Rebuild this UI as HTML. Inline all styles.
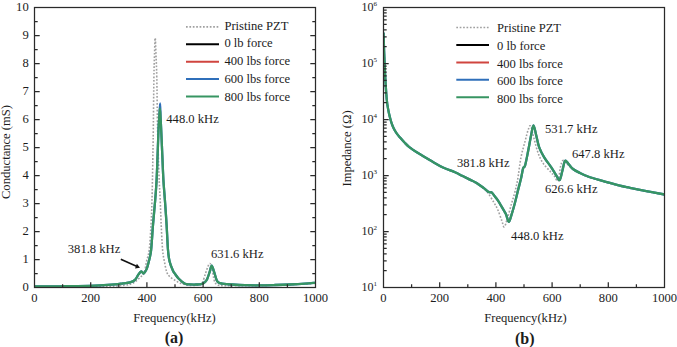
<!DOCTYPE html><html><head><meta charset="utf-8"><style>html,body{margin:0;padding:0;background:#fff;width:677px;height:347px;overflow:hidden}svg{display:block}text{font-family:"Liberation Serif",serif;fill:#1c1c1c}</style></head><body>
<svg width="677" height="347" viewBox="0 0 677 347">
<defs><clipPath id="cl"><rect x="34.5" y="7.5" width="281" height="280"/></clipPath>
<clipPath id="cr"><rect x="383.5" y="7.5" width="281" height="280"/></clipPath></defs>
<g clip-path="url(#cl)" fill="none" stroke-linejoin="round" stroke-linecap="round"><path d="M34.50,286.90 C42.08,286.88 67.42,286.92 80.00,286.80 C92.58,286.68 102.50,286.47 110.00,286.20 C117.50,285.93 121.33,285.63 125.00,285.20 C128.67,284.77 130.05,284.38 132.00,283.60 C133.95,282.82 135.23,281.63 136.70,280.50 C138.17,279.37 139.55,278.05 140.80,276.80 C142.05,275.55 143.25,275.55 144.20,273.00 C145.15,270.45 145.67,265.33 146.50,261.50 C147.33,257.67 148.45,256.08 149.20,250.00 C149.95,243.92 150.53,233.33 151.00,225.00 C151.47,216.67 151.70,210.83 152.00,200.00 C152.30,189.17 152.58,171.67 152.80,160.00 C153.02,148.33 153.12,143.67 153.30,130.00 C153.48,116.33 153.70,90.50 153.90,78.00 C154.10,65.50 154.28,61.67 154.50,55.00 C154.72,48.33 154.95,38.00 155.20,38.00 C155.45,38.00 155.73,48.33 156.00,55.00 C156.27,61.67 156.53,65.50 156.80,78.00 C157.07,90.50 157.23,113.83 157.60,130.00 C157.97,146.17 158.57,163.33 159.00,175.00 C159.43,186.67 159.83,191.67 160.20,200.00 C160.57,208.33 160.80,216.67 161.20,225.00 C161.60,233.33 162.07,243.92 162.60,250.00 C163.13,256.08 163.72,257.85 164.40,261.50 C165.08,265.15 165.83,269.40 166.70,271.90 C167.57,274.40 168.17,275.07 169.60,276.50 C171.03,277.93 173.40,279.35 175.30,280.50 C177.20,281.65 178.88,282.60 181.00,283.40 C183.12,284.20 185.50,284.98 188.00,285.30 C190.50,285.62 194.00,285.42 196.00,285.30 C198.00,285.18 198.90,285.12 200.00,284.60 C201.10,284.08 201.67,284.10 202.60,282.20 C203.53,280.30 204.68,275.88 205.60,273.20 C206.52,270.52 207.35,267.70 208.10,266.10 C208.85,264.50 209.42,263.10 210.10,263.60 C210.78,264.10 211.52,266.33 212.20,269.10 C212.88,271.87 213.45,277.67 214.20,280.20 C214.95,282.73 215.40,283.40 216.70,284.30 C218.00,285.20 218.12,285.35 222.00,285.60 C225.88,285.85 233.67,285.80 240.00,285.80 C246.33,285.80 251.67,285.80 260.00,285.60 C268.33,285.40 280.75,284.97 290.00,284.60 C299.25,284.23 311.25,283.60 315.50,283.40" stroke="#a0a0a0" stroke-width="1.6" stroke-dasharray="1.7 1.7" stroke-linecap="butt"/><path d="M34.50,286.40 C38.75,286.38 52.75,286.35 60.00,286.30 C67.25,286.25 71.33,286.27 78.00,286.10 C84.67,285.93 93.83,285.60 100.00,285.30 C106.17,285.00 111.17,284.63 115.00,284.30 C118.83,283.97 120.50,283.62 123.00,283.30 C125.50,282.98 128.00,282.98 130.00,282.40 C132.00,281.82 133.58,281.13 135.00,279.80 C136.42,278.47 137.45,275.80 138.50,274.40 C139.55,273.00 140.45,271.57 141.30,271.40 C142.15,271.23 142.73,273.73 143.60,273.40 C144.47,273.07 145.63,271.38 146.50,269.40 C147.37,267.42 148.03,264.73 148.80,261.50 C149.57,258.27 150.40,256.08 151.10,250.00 C151.80,243.92 152.32,233.33 153.00,225.00 C153.68,216.67 154.60,207.50 155.20,200.00 C155.80,192.50 156.20,187.50 156.60,180.00 C157.00,172.50 157.28,163.33 157.60,155.00 C157.92,146.67 158.23,136.17 158.50,130.00 C158.77,123.83 158.93,122.43 159.20,118.00 C159.47,113.57 159.87,103.40 160.10,103.40 C160.33,103.40 160.42,113.57 160.60,118.00 C160.78,122.43 160.92,123.83 161.20,130.00 C161.48,136.17 161.93,146.67 162.30,155.00 C162.67,163.33 162.97,172.50 163.40,180.00 C163.83,187.50 164.37,192.50 164.90,200.00 C165.43,207.50 166.08,216.67 166.60,225.00 C167.12,233.33 167.50,243.92 168.00,250.00 C168.50,256.08 168.77,258.05 169.60,261.50 C170.43,264.95 172.15,268.72 173.00,270.70 C173.85,272.68 173.73,272.05 174.70,273.40 C175.67,274.75 177.08,277.07 178.80,278.80 C180.52,280.53 183.13,282.87 185.00,283.80 C186.87,284.73 188.17,284.28 190.00,284.40 C191.83,284.52 193.98,284.60 196.00,284.50 C198.02,284.40 200.60,284.22 202.10,283.80 C203.60,283.38 204.17,282.77 205.00,282.00 C205.83,281.23 206.33,280.83 207.10,279.20 C207.87,277.57 208.84,274.47 209.60,272.20 C210.36,269.93 210.88,265.60 211.65,265.60 C212.42,265.60 213.36,269.77 214.20,272.20 C215.04,274.63 215.90,278.43 216.70,280.20 C217.50,281.97 218.07,282.23 219.00,282.80 C219.93,283.37 220.13,283.32 222.30,283.60 C224.47,283.88 228.22,284.23 232.00,284.50 C235.78,284.77 240.33,285.07 245.00,285.20 C249.67,285.33 255.00,285.33 260.00,285.30 C265.00,285.27 270.00,285.13 275.00,285.00 C280.00,284.87 285.00,284.72 290.00,284.50 C295.00,284.28 300.75,283.98 305.00,283.70 C309.25,283.42 313.75,282.95 315.50,282.80" stroke="#2f6fba" stroke-width="2.3"/><path d="M34.50,286.40 C38.75,286.38 52.75,286.35 60.00,286.30 C67.25,286.25 71.33,286.27 78.00,286.10 C84.67,285.93 93.83,285.60 100.00,285.30 C106.17,285.00 111.17,284.63 115.00,284.30 C118.83,283.97 120.50,283.62 123.00,283.30 C125.50,282.98 128.00,282.98 130.00,282.40 C132.00,281.82 133.58,281.13 135.00,279.80 C136.42,278.47 137.45,275.80 138.50,274.40 C139.55,273.00 140.45,271.57 141.30,271.40 C142.15,271.23 142.73,273.73 143.60,273.40 C144.47,273.07 145.63,271.38 146.50,269.40 C147.37,267.42 148.03,264.73 148.80,261.50 C149.57,258.27 150.40,256.08 151.10,250.00 C151.80,243.92 152.32,233.33 153.00,225.00 C153.68,216.67 154.60,207.50 155.20,200.00 C155.80,192.50 156.20,187.50 156.60,180.00 C157.00,172.50 157.28,163.33 157.60,155.00 C157.92,146.67 158.23,136.17 158.50,130.00 C158.77,123.83 158.97,121.58 159.20,118.00 C159.43,114.42 159.67,108.50 159.90,108.50 C160.13,108.50 160.38,114.42 160.60,118.00 C160.82,121.58 160.92,123.83 161.20,130.00 C161.48,136.17 161.93,146.67 162.30,155.00 C162.67,163.33 162.97,172.50 163.40,180.00 C163.83,187.50 164.37,192.50 164.90,200.00 C165.43,207.50 166.08,216.67 166.60,225.00 C167.12,233.33 167.50,243.92 168.00,250.00 C168.50,256.08 168.77,258.05 169.60,261.50 C170.43,264.95 172.15,268.72 173.00,270.70 C173.85,272.68 173.73,272.05 174.70,273.40 C175.67,274.75 177.08,277.07 178.80,278.80 C180.52,280.53 183.13,282.87 185.00,283.80 C186.87,284.73 188.17,284.28 190.00,284.40 C191.83,284.52 193.98,284.60 196.00,284.50 C198.02,284.40 200.60,284.22 202.10,283.80 C203.60,283.38 204.17,282.77 205.00,282.00 C205.83,281.23 206.33,280.83 207.10,279.20 C207.87,277.57 208.84,274.47 209.60,272.20 C210.36,269.93 210.88,265.60 211.65,265.60 C212.42,265.60 213.36,269.77 214.20,272.20 C215.04,274.63 215.90,278.43 216.70,280.20 C217.50,281.97 218.07,282.23 219.00,282.80 C219.93,283.37 220.13,283.32 222.30,283.60 C224.47,283.88 228.22,284.23 232.00,284.50 C235.78,284.77 240.33,285.07 245.00,285.20 C249.67,285.33 255.00,285.33 260.00,285.30 C265.00,285.27 270.00,285.13 275.00,285.00 C280.00,284.87 285.00,284.72 290.00,284.50 C295.00,284.28 300.75,283.98 305.00,283.70 C309.25,283.42 313.75,282.95 315.50,282.80" stroke="#379562" stroke-width="2.3"/></g>
<g clip-path="url(#cr)" fill="none" stroke-linejoin="round" stroke-linecap="round"><path d="M383.60,33.50 C383.67,35.92 383.83,43.08 384.00,48.00 C384.17,52.92 384.37,57.67 384.60,63.00 C384.83,68.33 385.03,73.83 385.40,80.00 C385.77,86.17 386.33,95.08 386.80,100.00 C387.27,104.92 387.68,106.62 388.20,109.50 C388.72,112.38 389.35,115.08 389.90,117.30 C390.45,119.52 390.92,121.07 391.50,122.80 C392.08,124.53 392.57,125.97 393.40,127.70 C394.23,129.43 395.35,131.52 396.50,133.20 C397.65,134.88 398.97,136.25 400.30,137.80 C401.63,139.35 403.05,141.00 404.50,142.50 C405.95,144.00 406.82,145.08 409.00,146.80 C411.18,148.52 413.85,150.42 417.60,152.80 C421.35,155.18 427.27,158.65 431.50,161.10 C435.73,163.55 439.08,165.60 443.00,167.50 C446.92,169.40 451.80,171.05 455.00,172.50 C458.20,173.95 459.80,174.98 462.20,176.20 C464.60,177.42 467.00,178.58 469.40,179.80 C471.80,181.02 474.20,182.05 476.60,183.50 C479.00,184.95 481.88,186.90 483.80,188.50 C485.72,190.10 486.42,190.77 488.10,193.10 C489.78,195.43 492.25,199.65 493.90,202.50 C495.55,205.35 496.65,207.07 498.00,210.20 C499.35,213.33 500.95,218.53 502.00,221.30 C503.05,224.07 503.38,227.33 504.30,226.80 C505.22,226.27 506.30,221.93 507.50,218.10 C508.70,214.27 510.30,208.03 511.50,203.80 C512.70,199.57 513.70,196.58 514.70,192.70 C515.70,188.82 516.45,186.40 517.50,180.50 C518.55,174.60 519.73,163.85 521.00,157.30 C522.27,150.75 523.92,145.73 525.10,141.20 C526.28,136.67 527.17,132.62 528.10,130.10 C529.03,127.58 529.68,124.58 530.70,126.10 C531.72,127.62 532.95,134.67 534.20,139.20 C535.45,143.73 536.70,149.27 538.20,153.30 C539.70,157.33 541.18,160.37 543.20,163.40 C545.22,166.43 548.40,169.32 550.30,171.50 C552.20,173.68 553.30,174.92 554.60,176.50 C555.90,178.08 557.13,182.53 558.10,181.00 C559.07,179.47 559.63,170.70 560.40,167.30 C561.17,163.90 561.85,161.40 562.70,160.60 C563.55,159.80 563.78,161.05 565.50,162.50 C567.22,163.95 570.58,167.50 573.00,169.30 C575.42,171.10 577.50,172.05 580.00,173.30 C582.50,174.55 584.67,175.60 588.00,176.80 C591.33,178.00 594.87,179.02 600.00,180.50 C605.13,181.98 613.80,184.43 618.80,185.70 C623.80,186.97 625.63,187.20 630.00,188.10 C634.37,189.00 639.25,189.98 645.00,191.10 C650.75,192.22 661.25,194.18 664.50,194.80" stroke="#a0a0a0" stroke-width="1.6" stroke-dasharray="1.7 1.7" stroke-linecap="butt"/><path d="M383.60,33.50 C383.67,35.92 383.83,43.08 384.00,48.00 C384.17,52.92 384.37,57.67 384.60,63.00 C384.83,68.33 385.03,73.83 385.40,80.00 C385.77,86.17 386.33,95.08 386.80,100.00 C387.27,104.92 387.68,106.62 388.20,109.50 C388.72,112.38 389.35,115.08 389.90,117.30 C390.45,119.52 390.92,121.07 391.50,122.80 C392.08,124.53 392.57,125.97 393.40,127.70 C394.23,129.43 395.35,131.52 396.50,133.20 C397.65,134.88 398.97,136.25 400.30,137.80 C401.63,139.35 403.05,141.00 404.50,142.50 C405.95,144.00 406.82,145.08 409.00,146.80 C411.18,148.52 413.85,150.42 417.60,152.80 C421.35,155.18 427.27,158.65 431.50,161.10 C435.73,163.55 439.08,165.65 443.00,167.50 C446.92,169.35 451.80,170.82 455.00,172.20 C458.20,173.58 459.80,174.60 462.20,175.80 C464.60,177.00 467.00,178.20 469.40,179.40 C471.80,180.60 474.20,181.55 476.60,183.00 C479.00,184.45 481.75,186.58 483.80,188.10 C485.85,189.62 487.58,191.38 488.90,192.10 C490.22,192.82 490.77,191.75 491.70,192.40 C492.63,193.05 493.45,194.63 494.50,196.00 C495.55,197.37 496.62,198.50 498.00,200.60 C499.38,202.70 501.48,206.35 502.80,208.60 C504.12,210.85 504.90,211.90 505.90,214.10 C506.90,216.30 507.87,221.67 508.80,221.80 C509.73,221.93 510.52,217.90 511.50,214.90 C512.48,211.90 513.65,207.77 514.70,203.80 C515.75,199.83 516.75,195.32 517.80,191.10 C518.85,186.88 520.12,182.28 521.00,178.50 C521.88,174.72 522.42,170.58 523.10,168.40 C523.78,166.22 524.27,168.25 525.10,165.40 C525.93,162.55 527.10,156.33 528.10,151.30 C529.10,146.27 530.20,139.53 531.10,135.20 C532.00,130.87 532.65,125.30 533.50,125.30 C534.35,125.30 535.25,131.53 536.20,135.20 C537.15,138.87 537.87,143.62 539.20,147.30 C540.53,150.98 542.18,153.95 544.20,157.30 C546.22,160.65 549.28,164.37 551.30,167.40 C553.32,170.43 554.90,173.40 556.30,175.50 C557.70,177.60 558.72,180.67 559.70,180.00 C560.68,179.33 561.32,174.68 562.20,171.50 C563.08,168.32 563.97,162.18 565.00,160.90 C566.03,159.62 567.07,162.45 568.40,163.80 C569.73,165.15 571.07,167.47 573.00,169.00 C574.93,170.53 577.50,171.75 580.00,173.00 C582.50,174.25 584.67,175.30 588.00,176.50 C591.33,177.70 594.87,178.72 600.00,180.20 C605.13,181.68 613.80,184.13 618.80,185.40 C623.80,186.67 625.63,186.90 630.00,187.80 C634.37,188.70 639.25,189.68 645.00,190.80 C650.75,191.92 661.25,193.88 664.50,194.50" stroke="#2f6fba" stroke-width="2.3"/><path d="M383.60,33.50 C383.67,35.92 383.83,43.08 384.00,48.00 C384.17,52.92 384.37,57.67 384.60,63.00 C384.83,68.33 385.03,73.83 385.40,80.00 C385.77,86.17 386.33,95.08 386.80,100.00 C387.27,104.92 387.68,106.62 388.20,109.50 C388.72,112.38 389.35,115.08 389.90,117.30 C390.45,119.52 390.92,121.07 391.50,122.80 C392.08,124.53 392.57,125.97 393.40,127.70 C394.23,129.43 395.35,131.52 396.50,133.20 C397.65,134.88 398.97,136.25 400.30,137.80 C401.63,139.35 403.05,141.00 404.50,142.50 C405.95,144.00 406.82,145.08 409.00,146.80 C411.18,148.52 413.85,150.42 417.60,152.80 C421.35,155.18 427.27,158.65 431.50,161.10 C435.73,163.55 439.08,165.65 443.00,167.50 C446.92,169.35 451.80,170.82 455.00,172.20 C458.20,173.58 459.80,174.60 462.20,175.80 C464.60,177.00 467.00,178.20 469.40,179.40 C471.80,180.60 474.20,181.55 476.60,183.00 C479.00,184.45 481.75,186.58 483.80,188.10 C485.85,189.62 487.58,191.38 488.90,192.10 C490.22,192.82 490.77,191.75 491.70,192.40 C492.63,193.05 493.45,194.63 494.50,196.00 C495.55,197.37 496.62,198.50 498.00,200.60 C499.38,202.70 501.48,206.35 502.80,208.60 C504.12,210.85 504.90,211.90 505.90,214.10 C506.90,216.30 507.87,221.67 508.80,221.80 C509.73,221.93 510.52,217.90 511.50,214.90 C512.48,211.90 513.65,207.77 514.70,203.80 C515.75,199.83 516.75,195.32 517.80,191.10 C518.85,186.88 520.12,182.28 521.00,178.50 C521.88,174.72 522.42,170.58 523.10,168.40 C523.78,166.22 524.27,168.25 525.10,165.40 C525.93,162.55 527.10,156.33 528.10,151.30 C529.10,146.27 530.20,139.53 531.10,135.20 C532.00,130.87 532.65,125.30 533.50,125.30 C534.35,125.30 535.25,131.53 536.20,135.20 C537.15,138.87 537.87,143.62 539.20,147.30 C540.53,150.98 542.18,153.95 544.20,157.30 C546.22,160.65 549.28,164.37 551.30,167.40 C553.32,170.43 554.90,173.40 556.30,175.50 C557.70,177.60 558.72,180.67 559.70,180.00 C560.68,179.33 561.32,174.68 562.20,171.50 C563.08,168.32 563.97,162.18 565.00,160.90 C566.03,159.62 567.07,162.45 568.40,163.80 C569.73,165.15 571.07,167.47 573.00,169.00 C574.93,170.53 577.50,171.75 580.00,173.00 C582.50,174.25 584.67,175.30 588.00,176.50 C591.33,177.70 594.87,178.72 600.00,180.20 C605.13,181.68 613.80,184.13 618.80,185.40 C623.80,186.67 625.63,186.90 630.00,187.80 C634.37,188.70 639.25,189.68 645.00,190.80 C650.75,191.92 661.25,193.88 664.50,194.50" stroke="#379562" stroke-width="2.3"/></g>
<rect x="34.5" y="7.5" width="281" height="280" fill="none" stroke="#2a2a2a" stroke-width="1.25"/>
<path d="M34.5,273.5h3.2M315.5,273.5h-3.2M34.5,259.5h5.2M315.5,259.5h-5.2M34.5,245.5h3.2M315.5,245.5h-3.2M34.5,231.5h5.2M315.5,231.5h-5.2M34.5,217.5h3.2M315.5,217.5h-3.2M34.5,203.5h5.2M315.5,203.5h-5.2M34.5,189.5h3.2M315.5,189.5h-3.2M34.5,175.5h5.2M315.5,175.5h-5.2M34.5,161.5h3.2M315.5,161.5h-3.2M34.5,147.5h5.2M315.5,147.5h-5.2M34.5,133.5h3.2M315.5,133.5h-3.2M34.5,119.5h5.2M315.5,119.5h-5.2M34.5,105.5h3.2M315.5,105.5h-3.2M34.5,91.5h5.2M315.5,91.5h-5.2M34.5,77.5h3.2M315.5,77.5h-3.2M34.5,63.5h5.2M315.5,63.5h-5.2M34.5,49.5h3.2M315.5,49.5h-3.2M34.5,35.5h5.2M315.5,35.5h-5.2M34.5,21.5h3.2M315.5,21.5h-3.2M62.6,287.5v-3.2M90.7,287.5v-5.2M118.8,287.5v-3.2M146.9,287.5v-5.2M175,287.5v-3.2M203.1,287.5v-5.2M231.2,287.5v-3.2M259.3,287.5v-5.2M287.4,287.5v-3.2" stroke="#2a2a2a" stroke-width="1.25" fill="none"/>
<text x="28.7" y="290.8" font-size="12.6" text-anchor="end">0</text>
<text x="28.7" y="262.8" font-size="12.6" text-anchor="end">1</text>
<text x="28.7" y="234.8" font-size="12.6" text-anchor="end">2</text>
<text x="28.7" y="206.8" font-size="12.6" text-anchor="end">3</text>
<text x="28.7" y="178.8" font-size="12.6" text-anchor="end">4</text>
<text x="28.7" y="150.8" font-size="12.6" text-anchor="end">5</text>
<text x="28.7" y="122.8" font-size="12.6" text-anchor="end">6</text>
<text x="28.7" y="94.8" font-size="12.6" text-anchor="end">7</text>
<text x="28.7" y="66.8" font-size="12.6" text-anchor="end">8</text>
<text x="28.7" y="38.8" font-size="12.6" text-anchor="end">9</text>
<text x="28.7" y="10.8" font-size="12.6" text-anchor="end">10</text>
<text x="34.5" y="301.6" font-size="12.6" text-anchor="middle">0</text>
<text x="90.7" y="301.6" font-size="12.6" text-anchor="middle">200</text>
<text x="146.9" y="301.6" font-size="12.6" text-anchor="middle">400</text>
<text x="203.1" y="301.6" font-size="12.6" text-anchor="middle">600</text>
<text x="259.3" y="301.6" font-size="12.6" text-anchor="middle">800</text>
<text x="315.5" y="301.6" font-size="12.6" text-anchor="middle">1000</text>
<text x="174.5" y="322" font-size="12.6" text-anchor="middle">Frequency(kHz)</text>
<text x="174" y="343.3" font-size="16" font-weight="bold" text-anchor="middle">(a)</text>
<text transform="translate(10.3,152) rotate(-90)" font-size="12.6" text-anchor="middle">Conductance (mS)</text>
<rect x="383.5" y="7.5" width="281" height="280" fill="none" stroke="#2a2a2a" stroke-width="1.25"/>
<path d="M383.5,270.64h3.2M383.5,260.78h3.2M383.5,253.78h3.2M383.5,248.36h3.2M383.5,243.92h3.2M383.5,240.17h3.2M383.5,236.93h3.2M383.5,234.06h3.2M383.5,231.5h5.2M383.5,214.64h3.2M383.5,204.78h3.2M383.5,197.78h3.2M383.5,192.36h3.2M383.5,187.92h3.2M383.5,184.17h3.2M383.5,180.93h3.2M383.5,178.06h3.2M383.5,175.5h5.2M383.5,158.64h3.2M383.5,148.78h3.2M383.5,141.78h3.2M383.5,136.36h3.2M383.5,131.92h3.2M383.5,128.17h3.2M383.5,124.93h3.2M383.5,122.06h3.2M383.5,119.5h5.2M383.5,102.64h3.2M383.5,92.78h3.2M383.5,85.78h3.2M383.5,80.36h3.2M383.5,75.92h3.2M383.5,72.17h3.2M383.5,68.93h3.2M383.5,66.06h3.2M383.5,63.5h5.2M383.5,46.64h3.2M383.5,36.78h3.2M383.5,29.78h3.2M383.5,24.36h3.2M383.5,19.92h3.2M383.5,16.17h3.2M383.5,12.93h3.2M383.5,10.06h3.2M411.6,287.5v-3.2M439.7,287.5v-5.2M467.8,287.5v-3.2M495.9,287.5v-5.2M524,287.5v-3.2M552.1,287.5v-5.2M580.2,287.5v-3.2M608.3,287.5v-5.2M636.4,287.5v-3.2" stroke="#2a2a2a" stroke-width="1.25" fill="none"/>
<text x="373.4" y="291.4" font-size="12" text-anchor="end">10</text>
<text x="373.6" y="286.4" font-size="7">1</text>
<text x="373.4" y="235.4" font-size="12" text-anchor="end">10</text>
<text x="373.6" y="230.4" font-size="7">2</text>
<text x="373.4" y="179.4" font-size="12" text-anchor="end">10</text>
<text x="373.6" y="174.4" font-size="7">3</text>
<text x="373.4" y="123.4" font-size="12" text-anchor="end">10</text>
<text x="373.6" y="118.4" font-size="7">4</text>
<text x="373.4" y="67.4" font-size="12" text-anchor="end">10</text>
<text x="373.6" y="62.4" font-size="7">5</text>
<text x="373.4" y="11.4" font-size="12" text-anchor="end">10</text>
<text x="373.6" y="6.4" font-size="7">6</text>
<text x="383.5" y="301.6" font-size="12.6" text-anchor="middle">0</text>
<text x="439.7" y="301.6" font-size="12.6" text-anchor="middle">200</text>
<text x="495.9" y="301.6" font-size="12.6" text-anchor="middle">400</text>
<text x="552.1" y="301.6" font-size="12.6" text-anchor="middle">600</text>
<text x="608.3" y="301.6" font-size="12.6" text-anchor="middle">800</text>
<text x="664.5" y="301.6" font-size="12.6" text-anchor="middle">1000</text>
<text x="525.5" y="322" font-size="12.6" text-anchor="middle">Frequency(kHz)</text>
<text x="524.8" y="343.6" font-size="16" font-weight="bold" text-anchor="middle">(b)</text>
<text transform="translate(351,148.5) rotate(-90)" font-size="12.6" text-anchor="middle">Impedance (Ω)</text>
<path d="M186,26.9H219" stroke="#a0a0a0" stroke-width="1.6" stroke-dasharray="1.7 1.7"/><text x="224.4" y="29.5" font-size="12.6">Pristine PZT</text><path d="M186,44.3H219" stroke="#000" stroke-width="2"/><text x="224.4" y="47.3" font-size="12.6">0 lb force</text><path d="M186,61.7H219" stroke="#d0453f" stroke-width="2"/><text x="224.4" y="65.2" font-size="12.6">400 lbs force</text><path d="M186,79.1H219" stroke="#2f6fba" stroke-width="2"/><text x="224.4" y="83" font-size="12.6">600 lbs force</text><path d="M186,96.6H219" stroke="#379562" stroke-width="2"/><text x="224.4" y="100.9" font-size="12.6">800 lbs force</text>
<path d="M456.3,27.5H489" stroke="#a0a0a0" stroke-width="1.6" stroke-dasharray="1.7 1.7"/><text x="497" y="32" font-size="12.6">Pristine PZT</text><path d="M456.3,44.9H489" stroke="#000" stroke-width="2"/><text x="497" y="49.7" font-size="12.6">0 lb force</text><path d="M456.3,62.4H489" stroke="#d0453f" stroke-width="2"/><text x="497" y="67.5" font-size="12.6">400 lbs force</text><path d="M456.3,79.8H489" stroke="#2f6fba" stroke-width="2"/><text x="497" y="85.2" font-size="12.6">600 lbs force</text><path d="M456.3,97.3H489" stroke="#379562" stroke-width="2"/><text x="497" y="103" font-size="12.6">800 lbs force</text>
<text x="166.3" y="122.7" font-size="12.6">448.0 kHz</text>
<text x="211" y="257.5" font-size="12.6">631.6 kHz</text>
<text x="67.8" y="253.2" font-size="12.6">381.8 kHz</text>
<path d="M120.8,259.2 L136.5,266.2" stroke="#111" stroke-width="1.6"/>
<path d="M140.0,267.7 L135.0,268.6 L136.9,263.7 Z" fill="#111"/>
<text x="457" y="167.2" font-size="12.6">381.8 kHz</text>
<text x="511" y="239.5" font-size="12.6">448.0 kHz</text>
<text x="545" y="133" font-size="12.6">531.7 kHz</text>
<text x="572" y="158" font-size="12.6">647.8 kHz</text>
<text x="545" y="192.9" font-size="12.6">626.6 kHz</text>
</svg></body></html>
